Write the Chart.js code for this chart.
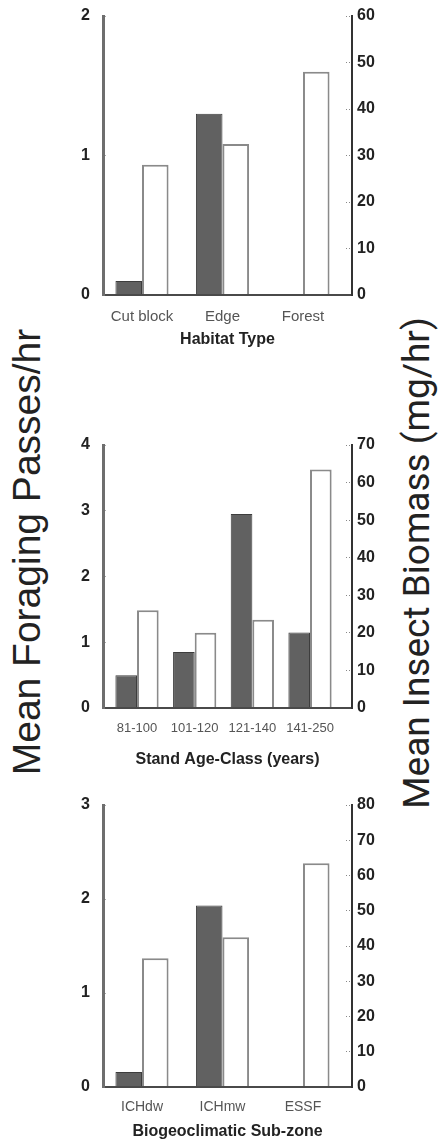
<!DOCTYPE html>
<html lang="en">
<head>
<meta charset="UTF-8">
<title>Foraging passes and insect biomass</title>
<script src="https://cdn.jsdelivr.net/npm/chart.js"></script>
<style>
  body { margin:0; background:#fff; width:439px; height:1142px; position:relative; overflow:hidden; }
  .panel { position:absolute; left:60px; width:320px; }
  .side { position:absolute; white-space:nowrap; color:#222; line-height:1;
          transform: translate(-50%,-50%) rotate(-90deg); }
  #leftTitle { left:27px; top:552px; font:39px "Liberation Sans", Arial, sans-serif; }
  #rightTitle { left:416px; top:563px; font:37px Roboto, "Liberation Sans", sans-serif; }
</style>
</head>
<body>
  <div class="panel" style="top:0;height:350px"><canvas id="habitat"></canvas></div>
  <div class="panel" style="top:429px;height:341px"><canvas id="age"></canvas></div>
  <div class="panel" style="top:789px;height:353px"><canvas id="zone"></canvas></div>
  <div class="side" id="leftTitle">Mean Foraging Passes/hr</div>
  <div class="side" id="rightTitle">Mean Insect Biomass (mg/hr)</div>

<script>
// panel 1 - habitat
const habitatCats = ['Cut block', 'Edge', 'Forest'];
const habitatForaging = [0.1, 1.3, 0];
const habitatBiomass = [28, 32.5, 48];

// panel 2 - stand age
const ageCats = ['81-100', '101-120', '121-140', '141-250'];
const ageForaging = [0.5, 0.85, 2.95, 1.15];
const ageBiomass = [26, 20, 23.5, 63.5];

// panel 3 - sub-zone
const zoneCats = ['ICHdw', 'ICHmw', 'ESSF'];
const zoneForaging = [0.16, 1.93, 0];
const zoneBiomass = [36.5, 42.5, 63.5];

// axis maxima (left: passes/hr, right: mg/hr)
const foragingMax = [2, 4, 3];
const biomassMax = [60, 70, 80];

const sans = "'Liberation Sans', Arial, sans-serif";

// fixed axis widths so the plot box lands where the original has it
function fixWidth(w) {
  return s => { s.width = w; s.paddingTop = 0; s.paddingBottom = 0; };
}

function panel(id, o) {
  const toPts = arr => arr.map((v, i) => ({ x: i, y: v }));
  new Chart(document.getElementById(id), {
    type: 'bar',
    data: {
      datasets: [
        { data: toPts(o.foraging), yAxisID: 'yL', backgroundColor: '#616161',
          borderColor: '#3d3d3d', borderWidth: 1, borderSkipped: 'start' },
        { data: toPts(o.biomass), yAxisID: 'yR', backgroundColor: '#ffffff',
          borderColor: '#8a8a8a', borderWidth: 2, borderSkipped: 'start' }
      ]
    },
    options: {
      responsive: true, maintainAspectRatio: false, animation: false,
      categoryPercentage: o.catPct, barPercentage: 1,
      layout: { padding: { top: 16, left: 0, right: 0, bottom: 0 } },
      plugins: { legend: { display: false }, tooltip: { enabled: false } },
      scales: {
        x: {
          type: 'linear', offset: false, min: o.xMin, max: o.xMax,
          afterBuildTicks: s => { s.ticks = o.cats.map((_, i) => ({ value: i })); },
          afterFit: s => { s.height = o.xHeight; },
          grid: { display: false, drawTicks: false, offset: false },
          border: { color: '#4a4a4a', width: 2, z: 1 },
          ticks: { autoSkip: false, maxRotation: 0, padding: o.xPad, color: '#555',
                   font: { family: sans, size: o.xFont },
                   callback: (v, i) => o.cats[i] },
          title: { display: true, text: o.title, color: '#222', padding: 0,
                   font: { family: sans, size: 16, weight: 'bold', lineHeight: 1.3 } }
        },
        yL: {
          position: 'left', min: 0, max: o.fMax,
          afterFit: fixWidth(43),
          grid: { drawOnChartArea: false, drawTicks: true, tickLength: -3,
                  tickColor: '#aaa', tickWidth: 1 },
          border: { color: '#6e6e6e', width: 3, z: 1 },
          ticks: { stepSize: 1, padding: 16, color: '#222',
                   font: { family: sans, size: 16, weight: 'bold' } }
        },
        yR: {
          position: 'right', min: 0, max: o.bMax,
          afterFit: fixWidth(28),
          grid: { drawOnChartArea: false, drawTicks: true, tickLength: -7,
                  tickColor: '#888', tickWidth: 1, tickBorderDash: [1, 2] },
          border: { color: '#333', width: 2, z: 1 },
          ticks: { stepSize: 10, padding: 12, color: '#222',
                   font: { family: sans, size: 16, weight: 'bold' } }
        }
      }
    }
  });
}

panel('habitat', { cats: habitatCats, foraging: habitatForaging, biomass: habitatBiomass,
  fMax: foragingMax[0], bMax: biomassMax[0], title: 'Habitat Type',
  xMin: -0.4845, xMax: 2.609, catPct: 0.66, xHeight: 55, xPad: 13, xFont: 15 });

panel('age', { cats: ageCats, foraging: ageForaging, biomass: ageBiomass,
  fMax: foragingMax[1], bMax: biomassMax[1], title: 'Stand Age-Class (years)',
  xMin: -0.59, xMax: 3.728, catPct: 0.75, xHeight: 62, xPad: 13, xFont: 13 });

panel('zone', { cats: zoneCats, foraging: zoneForaging, biomass: zoneBiomass,
  fMax: foragingMax[2], bMax: biomassMax[2], title: 'Biogeoclimatic Sub-zone',
  xMin: -0.4845, xMax: 2.609, catPct: 0.66, xHeight: 55, xPad: 12, xFont: 14 });
</script>
</body>
</html>
